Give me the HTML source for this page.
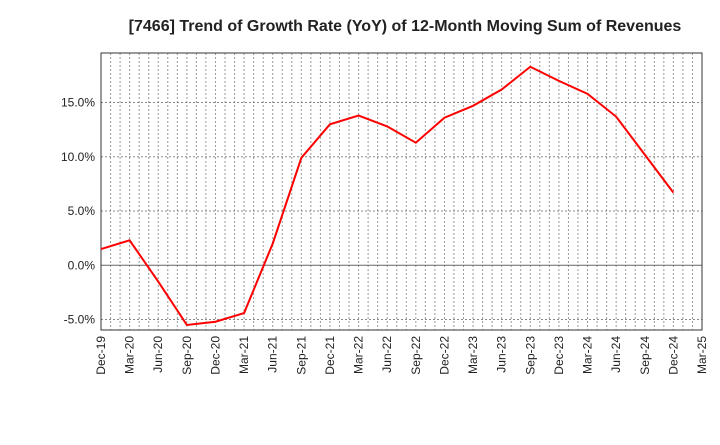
<!DOCTYPE html>
<html><head><meta charset="utf-8"><style>
body{margin:0;background:#fff;}
svg text{font-family:"Liberation Sans",sans-serif;fill:#222;}
</style></head><body>
<svg id="chart" width="720" height="440">
<text x="405" y="31" text-anchor="middle" font-size="16" font-weight="bold">[7466]  Trend of Growth Rate (YoY) of 12-Month Moving Sum of Revenues</text>
<g id="grid"></g><g id="axes"></g><g id="series"></g>
</svg>
<script>
const categories=["Dec-19","Mar-20","Jun-20","Sep-20","Dec-20","Mar-21","Jun-21","Sep-21","Dec-21","Mar-22","Jun-22","Sep-22","Dec-22","Mar-23","Jun-23","Sep-23","Dec-23","Mar-24","Jun-24","Sep-24","Dec-24","Mar-25"];
const values=[1.5,2.3,-1.5,-5.5,-5.2,-4.4,2.0,9.9,13.0,13.8,12.8,11.3,13.6,14.7,16.2,18.3,17.0,15.8,13.7,10.2,6.7];
const yTicks=[-5,0,5,10,15];
const yTickLabels=["-5.0%","0.0%","5.0%","10.0%","15.0%"];
const L=101,R=702,T=53,B=330;
const x=i=>L+(R-L)*i/(categories.length-1);
const y=v=>265.3-v*10.85;
const NS="http://www.w3.org/2000/svg";
function mk(tag,attrs,parent){const e=document.createElementNS(NS,tag);for(const k in attrs)e.setAttribute(k,attrs[k]);document.getElementById(parent).appendChild(e);return e;}
const nMonths=(categories.length-1)*3;
for(let m=1;m<nMonths;m++){const xx=L+(R-L)*m/nMonths;
const g=mk("line",{x1:xx,x2:xx,y1:T,y2:B,stroke:"#999","stroke-dasharray":"2,2","stroke-width":1},"grid");

}
yTicks.forEach((v,i)=>{
const g=mk("line",{x1:L,x2:R,y1:y(v),y2:y(v),stroke:v===0?"#666":"#888","stroke-dasharray":v===0?"":"2,2","stroke-width":1},"grid");


const t=mk("text",{x:L-6,y:y(v)+4,"text-anchor":"end","font-size":12},"axes");t.textContent=yTickLabels[i];

});
const fr=mk("rect",{x:L,y:T,width:R-L,height:B-T,fill:"none",stroke:"#333","stroke-width":1},"axes");


categories.forEach((c,i)=>{
const t=mk("text",{transform:`translate(${x(i)+4},${B+6}) rotate(-90)`,"text-anchor":"end","font-size":12},"axes");t.textContent=c;

});
const p=mk("polyline",{points:values.map((v,i)=>x(i)+","+y(v)).join(" "),fill:"none",stroke:"#f00","stroke-width":2},"series");


</script>
</body></html>
